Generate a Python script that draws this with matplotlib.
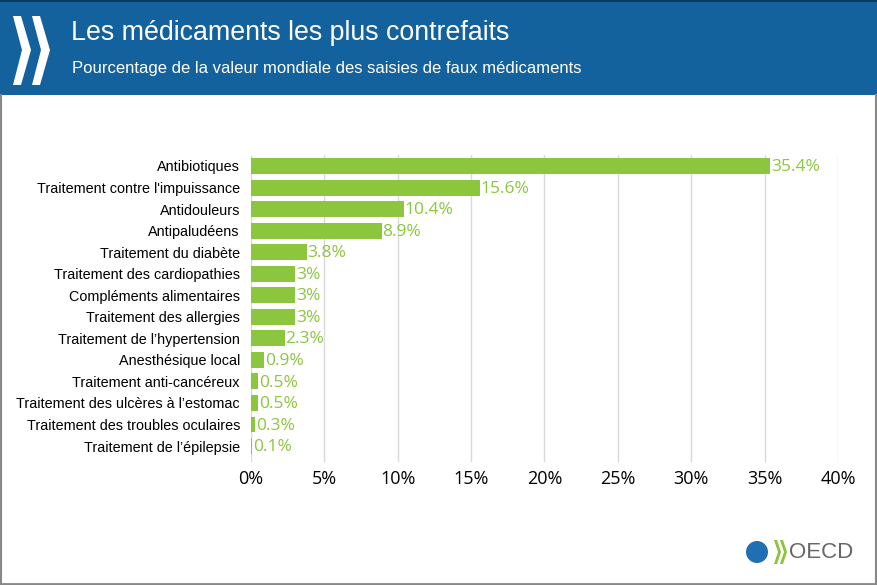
import matplotlib.pyplot as plt
from matplotlib.patches import Rectangle, Polygon, Ellipse

categories = ["Antibiotiques", "Traitement contre l'impuissance", "Antidouleurs",
              "Antipaludéens", "Traitement du diabète", "Traitement des cardiopathies",
              "Compléments alimentaires", "Traitement des allergies",
              "Traitement de l’hypertension", "Anesthésique local",
              "Traitement anti-cancéreux", "Traitement des ulcères à l’estomac",
              "Traitement des troubles oculaires", "Traitement de l’épilepsie"]
values = [35.4, 15.6, 10.4, 8.9, 3.8, 3, 3, 3, 2.3, 0.9, 0.5, 0.5, 0.3, 0.1]
value_labels = ["35.4%", "15.6%", "10.4%", "8.9%", "3.8%", "3%", "3%", "3%",
                "2.3%", "0.9%", "0.5%", "0.5%", "0.3%", "0.1%"]
xticks = [0, 5, 10, 15, 20, 25, 30, 35, 40]

green = "#8cc63f"
blue = "#13629e"

W, H = 878, 585
fig = plt.figure(figsize=(W / 100, H / 100), dpi=100)

def fx(px):
    return px / W

def fy(py):
    return 1 - py / H

# header band
fig.patches.append(Rectangle((0, fy(95)), 1, 95 / H, transform=fig.transFigure,
                             facecolor=blue, edgecolor="none", zorder=0))
fig.patches.append(Rectangle((0, fy(2)), 1, 2 / H, transform=fig.transFigure,
                             facecolor="#0b3a5e", edgecolor="none", zorder=1))
# chevrons
for x0 in (13, 32):
    pts = [(x0, 16), (x0 + 8, 16), (x0 + 18, 50), (x0 + 8, 85), (x0, 85), (x0 + 9, 50)]
    fig.patches.append(Polygon([(fx(a), fy(b)) for a, b in pts], closed=True,
                               transform=fig.transFigure, facecolor="white",
                               edgecolor="none", zorder=2))
fig.text(fx(71), fy(33), "Les médicaments les plus contrefaits", color="white",
         fontsize=19.3, family="Liberation Sans", va="center", ha="left")
fig.text(fx(72), fy(69), "Pourcentage de la valeur mondiale des saisies de faux médicaments",
         color="white", fontsize=12, family="Liberation Sans", va="center", ha="left")

# frame lines
fig.add_artist(plt.Line2D([fx(1.5), fx(1.5)], [fy(95), fy(584)], color="#888888", lw=1.5))
fig.add_artist(plt.Line2D([fx(876.5), fx(876.5)], [fy(95), fy(584)], color="#888888", lw=1.5))
fig.add_artist(plt.Line2D([0, 1], [fy(584), fy(584)], color="#888888", lw=2))

ax = fig.add_axes([fx(251), fy(462), fx(838) - fx(251), fy(155) - fy(462)])
y = list(range(len(categories)))
ax.barh(y, values, height=0.74, color=green, zorder=2)
for yi, v, lab in zip(y, values, value_labels):
    ax.text(v + 0.05, yi + 0.05, lab, color=green, fontsize=12.5, family="Open Sans",
            va="center", ha="left")
ax.set_xlim(0, 40)
ax.set_ylim(13.74, -0.51)
ax.set_yticks(y)
ax.set_yticklabels(categories, fontsize=10.4, family="Liberation Sans")
ax.set_xticks(xticks)
ax.set_xticklabels([f"{t}%" for t in xticks], fontsize=13, family="Open Sans")
ax.tick_params(length=0)
ax.tick_params(axis="y", pad=8)
ax.tick_params(axis="x", pad=6)
ax.grid(axis="x", color="#d9d9d9", lw=1, zorder=0)
for s in ax.spines.values():
    s.set_visible(False)

# OECD logo
fig.patches.append(Ellipse((fx(757), fy(552)), 22 / W, 22 / H, transform=fig.transFigure,
                           facecolor="#1f6fb2", edgecolor="none"))
for x0 in (774, 780):
    pts = [(x0, 540), (x0 + 3, 540), (x0 + 7, 552), (x0 + 3, 564), (x0, 564), (x0 + 4, 552)]
    fig.patches.append(Polygon([(fx(a), fy(b)) for a, b in pts], closed=True,
                               transform=fig.transFigure, facecolor="#8cc63f",
                               edgecolor="none"))
fig.text(fx(789), fy(552), "OECD", color="#666666", fontsize=16, family="Liberation Sans",
         va="center", ha="left")

fig.savefig("out.png", dpi=100, facecolor="white")
